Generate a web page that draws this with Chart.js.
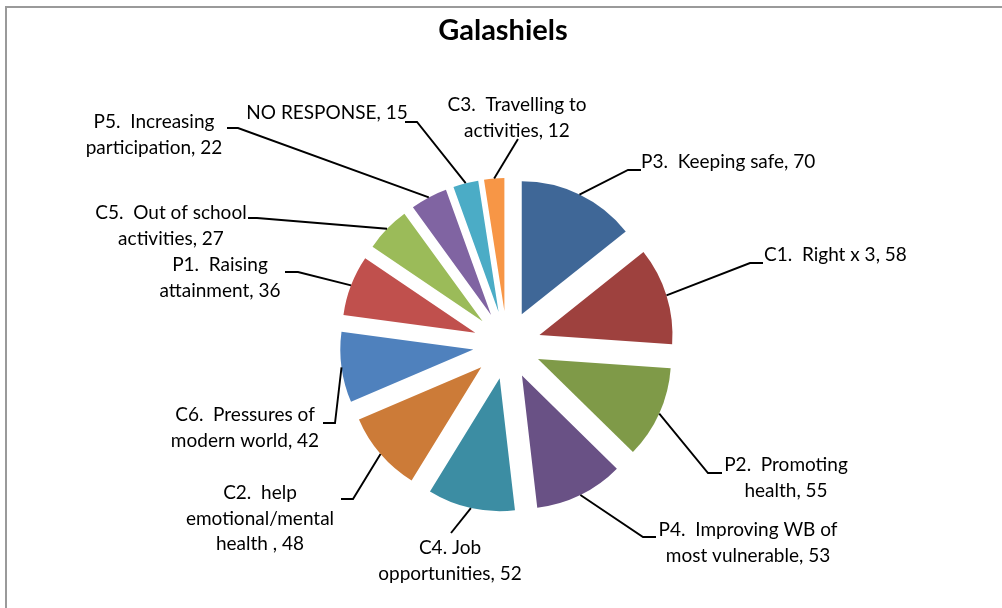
<!DOCTYPE html>
<html><head><meta charset="utf-8">
<script src="https://cdn.jsdelivr.net/npm/chart.js@4/dist/chart.umd.min.js"></script>
<style>html,body{margin:0;padding:0;background:#fff;overflow:hidden}</style>
</head><body>
<canvas id="c" width="1002" height="608"></canvas>
<script>
// ---- data ----
const title = "Galashiels";
const categoryLines = [
  ["P3.  Keeping safe"],
  ["C1.  Right x 3"],
  ["P2.  Promoting", "health"],
  ["P4.  Improving WB of", "most vulnerable"],
  ["C4. Job", "opportunities"],
  ["C2.  help", "emotional/mental", "health "],
  ["C6.  Pressures of", "modern world"],
  ["P1.  Raising", "attainment"],
  ["C5.  Out of school", "activities"],
  ["P5.  Increasing", "participation"],
  ["NO RESPONSE"],
  ["C3.  Travelling to", "activities"]
];
const values = [70, 58, 55, 53, 52, 48, 42, 36, 27, 22, 15, 12];
const colors = ["#3F6797", "#9E413E", "#7F9A48", "#695185", "#3C8DA3", "#CC7B38",
                "#4F81BD", "#C0504D", "#9BBB59", "#8064A2", "#4BACC6", "#F79646"];

// ---- label layout (positions only) ----
const labelLayout = [
  {x: 641, y: 162, align: "left",   path: [[628,170],[641,170]]},
  {x: 764, y: 255, align: "left",   path: [[750,263],[763,263]]},
  {x: 786, y: 465, align: "center", path: [[708,473],[722,473]]},
  {x: 748, y: 530, align: "center", path: [[643,537],[656,537]]},
  {x: 450, y: 548, align: "center", path: [[451,533]]},
  {x: 260, y: 493, align: "center", path: [[353,499],[341,499]]},
  {x: 245, y: 415, align: "center", path: [[335,423],[323,423]]},
  {x: 220, y: 265, align: "center", path: [[298,272],[285,272]]},
  {x: 171, y: 213, align: "center", path: [[257,218],[248,218]]},
  {x: 154, y: 122, align: "center", path: [[238,128],[227,128]]},
  {x: 327, y: 113, align: "center", path: [[417,122],[405,122]]},
  {x: 517, y: 105, align: "center", path: [[518,139]]}
];
const EXPLODE = 34;
const LINE_H = 25.5;
const LABEL_FONT = "19px Lato";
const TITLE_FONT = "bold 29px Lato";

const explodePlugin = {
  id: "explode",
  afterDatasetUpdate(chart, args) {
    const meta = args.meta;
    meta.data.forEach(arc => {
      const mid = (arc.startAngle + arc.endAngle) / 2;
      arc.x += Math.cos(mid) * EXPLODE;
      arc.y += Math.sin(mid) * EXPLODE;
    });
  },
  afterDraw(chart) {
    const ctx = chart.ctx;
    ctx.save();
    // frame
    ctx.strokeStyle = "#9a9a9a";
    ctx.lineWidth = 2;
    ctx.beginPath();
    ctx.moveTo(6, 608); ctx.lineTo(6, 7); ctx.lineTo(1002, 7);
    ctx.stroke();
    // title
    ctx.fillStyle = "#000";
    ctx.font = TITLE_FONT;
    ctx.textAlign = "center";
    ctx.textBaseline = "middle";
    ctx.fillText(title, 503, 31);
    // leader lines & labels
    const meta = chart.getDatasetMeta(0);
    ctx.font = LABEL_FONT;
    meta.data.forEach((arc, i) => {
      const mid = (arc.startAngle + arc.endAngle) / 2;
      const sx = arc.x + Math.cos(mid) * arc.outerRadius;
      const sy = arc.y + Math.sin(mid) * arc.outerRadius;
      const L = labelLayout[i];
      ctx.strokeStyle = "#000";
      ctx.lineWidth = 1.9;
      ctx.beginPath();
      ctx.moveTo(sx, sy);
      L.path.forEach(p => ctx.lineTo(p[0], p[1]));
      ctx.stroke();
      const lines = categoryLines[i].slice();
      lines[lines.length - 1] = lines[lines.length - 1] + ", " + values[i];
      ctx.textAlign = L.align;
      ctx.textBaseline = "middle";
      ctx.fillStyle = "#000";
      lines.forEach((t, k) => ctx.fillText(t, L.x, L.y + k * LINE_H));
    });
    ctx.restore();
  }
};

new Chart(document.getElementById("c"), {
  type: "pie",
  data: {
    labels: categoryLines.map(l => l.join(" ").trim()),
    datasets: [{
      data: values,
      backgroundColor: colors,
      borderWidth: 0,
      radius: 133
    }]
  },
  options: {
    responsive: false,
    animation: false,
    events: [],
    layout: {padding: {left: 112, right: 100, top: 182, bottom: 100}},
    plugins: {legend: {display: false}, tooltip: {enabled: false}, title: {display: false}}
  },
  plugins: [explodePlugin]
});
</script>
</body></html>
